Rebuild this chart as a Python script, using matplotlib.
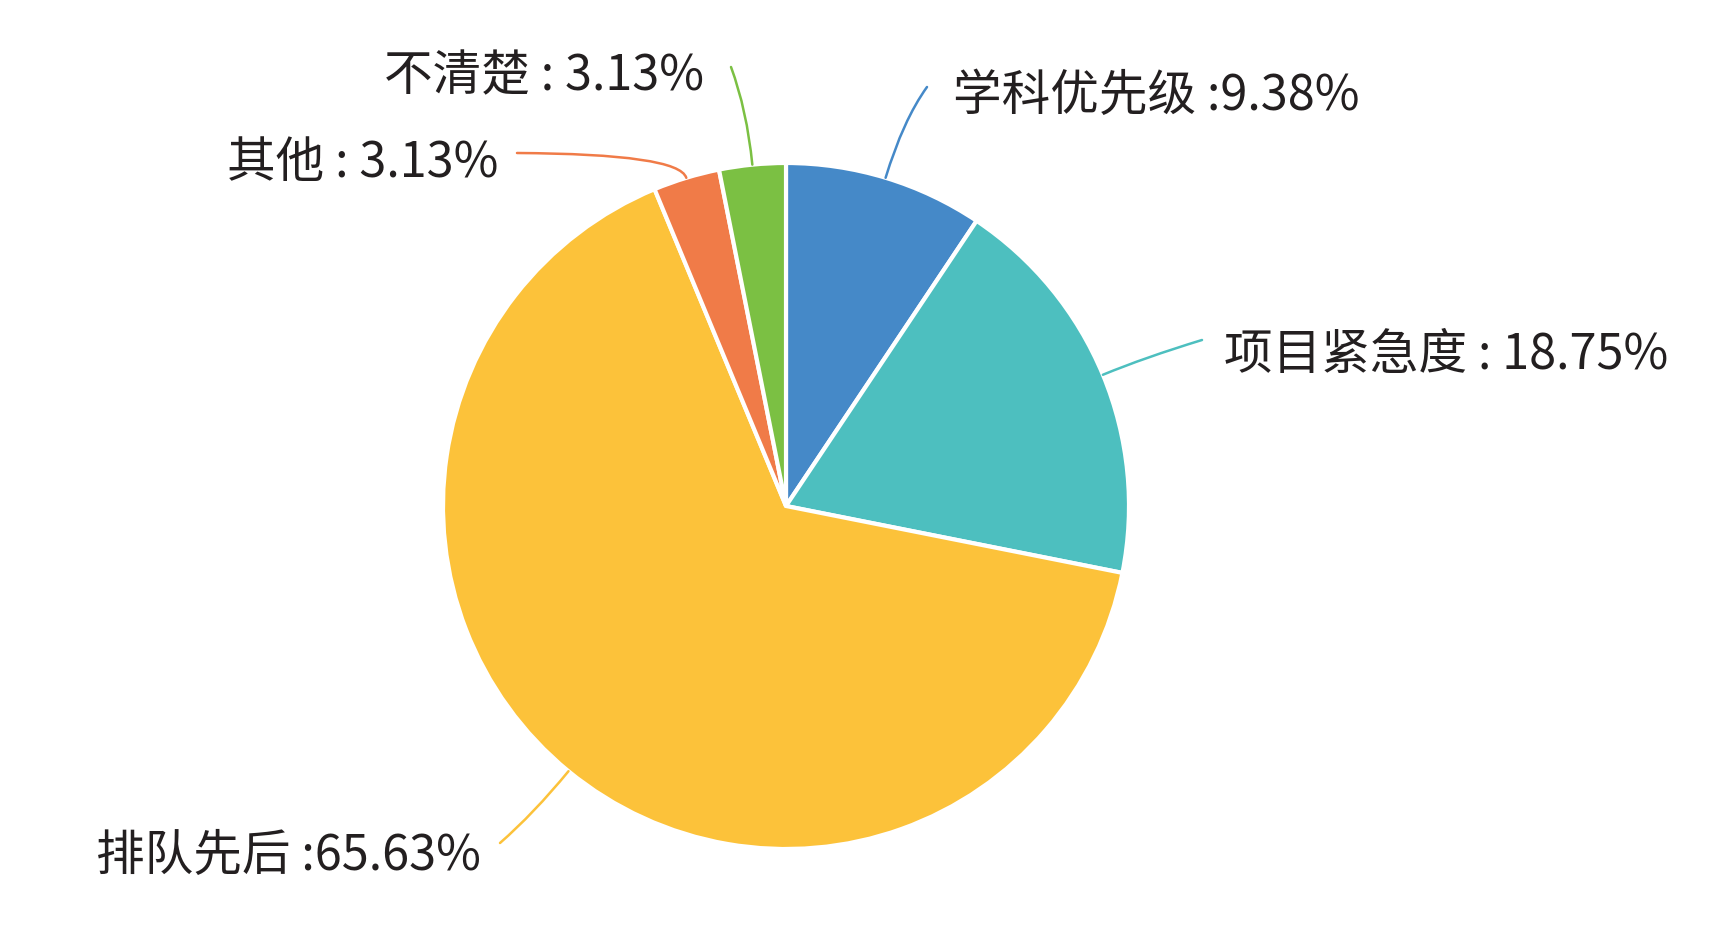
import matplotlib.pyplot as plt
import numpy as np
from matplotlib.path import Path
from matplotlib.patches import PathPatch

plt.rcParams['font.family'] = ['Noto Sans CJK SC', 'DejaVu Sans']

categories = ['学科优先级', '项目紧急度', '排队先后', '其他', '不清楚']
shares = [9.38, 18.75, 65.63, 3.13, 3.13]
separators = [' :', ' : ', ' :', ' : ', ' : ']
colors = ['#4589c8', '#4dbfbf', '#fcc23a', '#f07b48', '#7bc043']

# label anchor (x, y in pixels from top-left), alignment, leader end point
label_pos = [(953, 96, 'left'), (1224, 355, 'left'), (481, 856, 'right'),
             (498, 163, 'right'), (704, 77, 'right')]
leader_end = [(927, 88), (1202, 341), (500, 844), (517, 154), (731, 68)]
leader_bend = [60, 45, 55, 25, 55]

W, H = 1715, 929
cx, cy, r = 786, H - 507, 343

fig = plt.figure(figsize=(W / 100, H / 100), dpi=100)
ax = fig.add_axes([0, 0, 1, 1])
ax.set_xlim(0, W)
ax.set_ylim(0, H)
ax.set_aspect('equal')
ax.axis('off')

wedges, _ = ax.pie(shares, colors=colors, startangle=90, counterclock=False,
                   center=(cx, cy), radius=r,
                   wedgeprops=dict(edgecolor='white', linewidth=3))
ax.set_xlim(0, W)
ax.set_ylim(0, H)

for i, w in enumerate(wedges):
    mid = np.deg2rad((w.theta1 + w.theta2) / 2)
    x0, y0 = cx + r * np.cos(mid), cy + r * np.sin(mid)
    bx = x0 + leader_bend[i] * np.cos(mid)
    by = y0 + leader_bend[i] * np.sin(mid)
    ex, ey = leader_end[i][0], H - leader_end[i][1]
    path = Path([(x0, y0), (bx, by), (ex, ey)],
                [Path.MOVETO, Path.CURVE3, Path.CURVE3])
    ax.add_patch(PathPatch(path, facecolor='none', edgecolor=colors[i],
                           linewidth=1.8, capstyle='round'))

    lx, ly, ha = label_pos[i]
    ax.text(lx, H - ly, f'{categories[i]}{separators[i]}{shares[i]:.2f}%',
            ha=ha, va='center', fontsize=35, color='#231f20')

fig.savefig('out.png', dpi=100)
